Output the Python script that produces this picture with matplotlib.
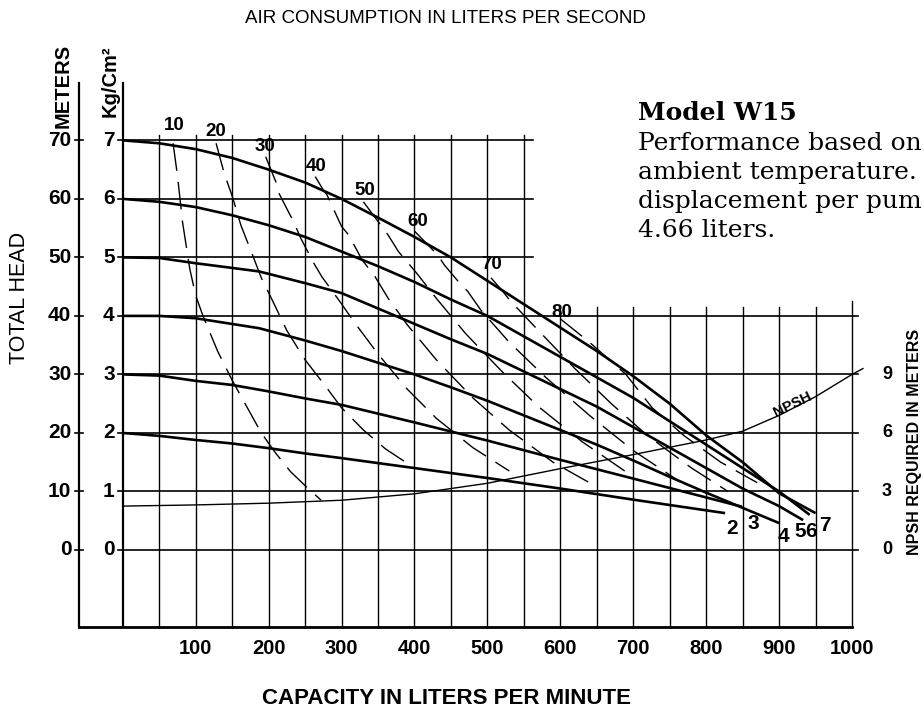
import matplotlib
matplotlib.use("Agg")
import matplotlib.pyplot as plt

# ---------------- data ----------------
pressure_labels = ["2", "3", "4", "5", "6", "7"]
curve_q = [
    [0, 50, 100, 150, 200, 250, 300, 400, 500, 600, 700, 826],
    [0, 50, 100, 150, 200, 250, 300, 400, 500, 600, 700, 849],
    [0, 50, 100, 187, 250, 300, 350, 400, 450, 500, 550, 600, 650, 700, 750, 800, 850, 900],
    [0, 50, 100, 150, 187, 250, 300, 378, 450, 500, 550, 600, 650, 700, 750, 800, 850, 900, 933],
    [0, 50, 100, 150, 200, 250, 300, 350, 400, 450, 500, 550, 600, 650, 700, 750, 800, 850, 900, 942],
    [0, 50, 100, 150, 200, 250, 300, 350, 400, 450, 500, 550, 600, 650, 700, 750, 800, 850, 900, 950],
]
curve_h = [
    [20, 19.5, 18.8, 18.2, 17.4, 16.5, 15.7, 14.0, 12.3, 10.5, 8.6, 6.3],
    [30, 29.8, 28.9, 28.2, 27.1, 25.9, 24.8, 21.8, 18.7, 15.4, 12.2, 7.4],
    [40, 40, 39.6, 37.9, 35.8, 34, 32, 30, 27.8, 25.5, 23, 20.5, 18, 15.3, 12.5, 9.8, 7.2, 4.6],
    [50, 49.9, 49, 48.2, 47.6, 45.6, 43.9, 39.8, 36, 33.5, 30.5, 27.5, 24.5, 21, 17.5, 14, 10.5, 7.5, 5.1],
    [60, 59.5, 58.6, 57.2, 55.5, 53.5, 51, 48.5, 45.8, 42.8, 40, 36.5, 33, 29.5, 26, 22, 18, 14, 10, 6],
    [70, 69.5, 68.5, 67, 65, 62.8, 60, 56.8, 53.5, 50, 46, 42, 38, 34, 29.7, 25, 19.6, 15, 9.7, 6.3],
]
curve_label_q = [835, 864, 906, 929, 944, 963]
curve_label_h = [3.7, 4.6, 2.3, 3.1, 3.1, 4.1]

air_labels = ["10", "20", "30", "40", "50", "60", "70", "80"]
air_label_q = [70, 128, 195, 265, 332, 404, 506, 602]
air_label_h = [72.6, 71.5, 68.9, 65.6, 61.4, 56.1, 48.7, 40.5]
air_q = [
    [69, 75, 82, 92, 100, 110, 130, 150, 170, 190, 210, 230, 250, 272],
    [128, 139, 150, 162, 178, 190, 205, 225, 250, 278, 300, 330, 360, 400],
    [196, 210, 214, 235, 244, 262, 273, 298, 320, 350, 390, 430, 480, 530],
    [264, 276, 280, 300, 310, 328, 346, 364, 390, 430, 480, 530, 590, 640],
    [330, 364, 378, 403, 430, 470, 520, 570, 630, 700],
    [400, 432, 441, 462, 473, 491, 530, 580, 640, 700, 760],
    [505, 519, 532, 570, 620, 670, 720, 780, 830],
    [600, 640, 690, 726, 770, 820, 870],
]
air_h = [
    [69.5, 64, 56, 48, 43.5, 40, 34, 29, 24.5, 20, 16.5, 13.4, 11, 8.5],
    [69.5, 64.4, 60.5, 55.5, 50.4, 46.5, 42.7, 37.5, 32.5, 28, 24.3, 20.5, 17.3, 14],
    [67.2, 62.9, 61, 55.9, 53.3, 49, 46.7, 42.4, 38.5, 33.5, 27.5, 22.5, 17.5, 13.5],
    [63.8, 61.3, 60.7, 55.3, 53.8, 49.6, 46.7, 43, 38.5, 32.5, 26, 20.5, 15, 11.5],
    [59.5, 53.8, 51, 47.3, 43, 37, 30.5, 24.5, 18.5, 12.5],
    [54.5, 50.4, 48.7, 45.6, 44.2, 41, 35.5, 29.5, 23, 17, 12],
    [46.5, 44.5, 42.5, 37.5, 31, 25, 19.5, 14, 10],
    [39.5, 35.5, 30, 24.3, 19.5, 15, 11.5],
]

# NPSH curve expressed in head metres (right scale: 3 m NPSH = 10 m head)
npsh_q = [0, 100, 200, 300, 400, 500, 600, 700, 800, 850, 900, 950, 1000, 1015]
npsh_h = [7.5, 7.7, 8.0, 8.5, 9.6, 11.4, 13.9, 16.3, 18.8, 20.3, 23, 26.2, 30, 31]

head_ticks = [0, 10, 20, 30, 40, 50, 60, 70]
kg_ticks = ["0", "1", "2", "3", "4", "5", "6", "7"]
cap_ticks = [100, 200, 300, 400, 500, 600, 700, 800, 900, 1000]
npsh_ticks = ["0", "3", "6", "9"]
npsh_tick_h = [0, 10, 20, 30]

model_lines = ["Performance based on", "ambient temperature.",
               "displacement per pum", "4.66 liters."]

# ---------------- figure ----------------
fig = plt.figure(figsize=(9.24, 7.11), dpi=100)
ax = fig.add_axes([79 / 924, (711 - 627) / 711, (852 - 79) / 924, (627 - 83) / 711])
ax.set_xlim(-60, 1000)
ax.set_ylim(-13.16, 79.8)
ax.axis("off")

K = "black"
NARROW = ["DejaVu Sans Condensed", "Liberation Sans"]
fb = dict(family=NARROW, weight="bold", color=K)

ybot = -13.16
# grid
for q in range(50, 600, 50):
    ax.plot([q, q], [ybot, 70.9], color=K, lw=1.0, clip_on=False)
for q in range(600, 1001, 50):
    ax.plot([q, q], [ybot, 41.5 if q < 1000 else 42.5], color=K, lw=1.0, clip_on=False)
for h in head_ticks:
    xe = 562 if h >= 50 else 1008
    ax.plot([0, xe], [h, h], color=K, lw=1.2, clip_on=False)

# axes lines
ax.plot([0, 0], [ybot, 79.8], color=K, lw=1.6, clip_on=False)
ax.plot([-60, -60], [ybot, 79.8], color=K, lw=1.6, clip_on=False)
ax.plot([-60, 1000], [ybot, ybot], color=K, lw=2.0, clip_on=False)
for h in head_ticks:
    ax.plot([-65, -55], [h, h], color=K, lw=1.2, clip_on=False)
    ax.plot([-7, 0], [h, h], color=K, lw=1.2, clip_on=False)

# tick labels
for h, kl in zip(head_ticks, kg_ticks):
    ax.text(-70.5, h, str(h), ha="right", va="center", fontsize=15, **fb)
    ax.text(-11, h, kl, ha="right", va="center", fontsize=15, **fb)
for q in cap_ticks:
    ax.text(q, -15.2, str(q), ha="center", va="top", fontsize=14.5, **fb)
for t, h in zip(npsh_ticks, npsh_tick_h):
    ax.text(1048, h, t, ha="center", va="center", fontsize=13,
            family="Liberation Sans", weight="bold", color=K)

ax.text(-82, 79.3, "METERS", rotation=90, ha="center", va="center", fontsize=14.5, **fb)
ax.text(-18, 80.1, "Kg/Cm²", rotation=90, ha="center", va="center", fontsize=14.5, **fb)
ax.text(-141, 43.1, "TOTAL HEAD", rotation=90, ha="center", va="center",
        fontsize=15.5, family="Liberation Sans", color=K)
ax.text(1086, 18.5, "NPSH REQUIRED IN METERS", rotation=90, ha="center", va="center",
        fontsize=11.5, family="Liberation Sans", weight="bold", color=K)
ax.text(442, 90.9, "AIR CONSUMPTION IN LITERS PER SECOND", ha="center", va="center",
        fontsize=13.5, family="Liberation Sans", color=K)
ax.text(444, -25.4, "CAPACITY IN LITERS PER MINUTE", ha="center", va="center",
        fontsize=16, **fb)

# performance curves
for q, h in zip(curve_q, curve_h):
    ax.plot(q, h, color=K, lw=1.9, solid_capstyle="butt", clip_on=False)
for lab, q, h in zip(pressure_labels, curve_label_q, curve_label_h):
    ax.text(q, h, lab, ha="center", va="center", fontsize=15, **fb)

# air consumption dashed curves
for q, h in zip(air_q, air_h):
    ax.plot(q, h, color=K, lw=1.0, linestyle=(0, (20, 8)), clip_on=False)
for lab, q, h in zip(air_labels, air_label_q, air_label_h):
    ax.text(q, h, lab, ha="center", va="center", fontsize=13.5, **fb)

# NPSH curve
ax.plot(npsh_q, npsh_h, color=K, lw=1.0, clip_on=False)
ax.text(919, 24.8, "NPSH", rotation=26, ha="center", va="center", fontsize=10.5,
        family="Liberation Sans", weight="bold", color=K)

# model text
fig.text(638 / 924, 1 - 120 / 711, "Model W15", ha="left", va="baseline",
         fontsize=18, family="DejaVu Serif", weight="bold", color=K)
for i, line in enumerate(model_lines):
    fig.text(638 / 924, 1 - (150 + 29 * i) / 711, line, ha="left", va="baseline",
             fontsize=18, family="DejaVu Serif", color=K)

fig.savefig("out.png", dpi=100, facecolor="white")
